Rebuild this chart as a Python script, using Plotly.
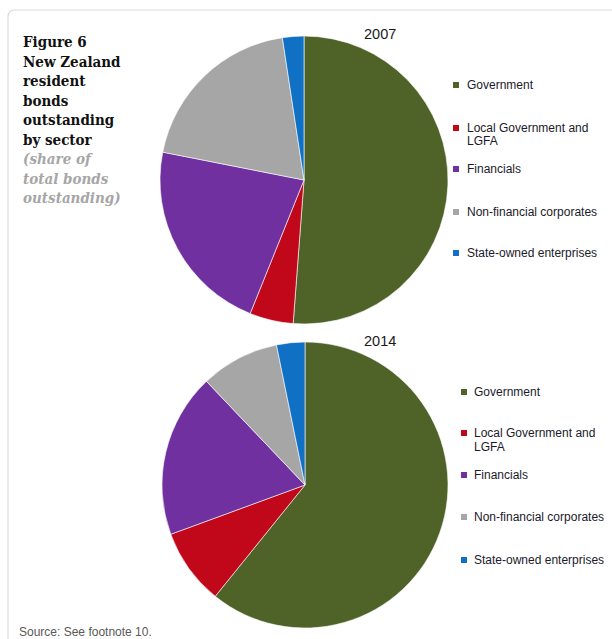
import plotly.graph_objects as go

# ---- data ----
sectors = ["Government", "Local Government and LGFA", "Financials",
           "Non-financial corporates", "State-owned enterprises"]
legend_labels = ["Government", "Local Government and<br>LGFA", "Financials",
                 "Non-financial corporates", "State-owned enterprises"]
share_2007 = [51.2, 4.9, 22.0, 19.5, 2.4]
share_2014 = [60.8, 8.6, 18.5, 8.9, 3.2]
years = ["2007", "2014"]
colors = ["#4F6228", "#C0081A", "#7030A0", "#A6A6A6", "#1070C4"]

W, H = 612, 639
def fx(x): return x / W
def fy(y): return 1 - y / H

fig = go.Figure()
fig.add_trace(go.Pie(
    labels=sectors, values=share_2007, sort=False, direction="clockwise",
    rotation=0, textinfo="none", showlegend=False,
    marker=dict(colors=colors, line=dict(color="white", width=0.6)),
    domain=dict(x=[fx(160), fx(448)], y=[fy(324), fy(36)]),
))
fig.add_trace(go.Pie(
    labels=sectors, values=share_2014, sort=False, direction="clockwise",
    rotation=0, textinfo="none", showlegend=False,
    marker=dict(colors=colors, line=dict(color="white", width=0.6)),
    domain=dict(x=[fx(162), fx(448)], y=[fy(628), fy(342)]),
))

annotations = []
shapes = []

# year titles
for yr, ypix in zip(years, [34, 341]):
    annotations.append(dict(text=yr, x=fx(380), y=fy(ypix), xref="paper", yref="paper",
                            showarrow=False, xanchor="center", yanchor="middle",
                            font=dict(family="Liberation Sans, Arial", size=14.5, color="#1a1a1a")))

# legends
leg_specs = [
    dict(sq_x=456, tx=465, rows=[85, 128, 169, 212, 253]),
    dict(sq_x=464, tx=472, rows=[392, 433, 475, 517, 560]),
]
for spec in leg_specs:
    for lab, col, ry in zip(legend_labels, colors, spec["rows"]):
        shapes.append(dict(type="rect", xref="paper", yref="paper",
                           x0=fx(spec["sq_x"] - 3), x1=fx(spec["sq_x"] + 3),
                           y0=fy(ry + 3), y1=fy(ry - 3),
                           fillcolor=col, line=dict(width=0)))
        for i, line in enumerate(lab.split("<br>")):
            annotations.append(dict(text=line, x=fx(spec["tx"]), y=fy(ry + 13.5 * i),
                                    xref="paper", yref="paper", showarrow=False,
                                    xanchor="left", yanchor="middle",
                                    font=dict(family="Liberation Sans, Arial", size=12,
                                              color="#1a1a2a")))

# title block
title_txt = ("<b>Figure 6<br>New Zealand<br>resident<br>bonds<br>outstanding<br>by sector</b><br>"
             "<b><i><span style='color:#A6A6A6'>(share of<br>total bonds<br>outstanding)</span></i></b>")
annotations.append(dict(text=title_txt, x=fx(21), y=fy(31), xref="paper", yref="paper",
                        showarrow=False, xanchor="left", yanchor="top", align="left",
                        font=dict(family="DejaVu Serif Condensed, DejaVu Serif", size=15,
                                  color="#111111")))

# source
annotations.append(dict(text="Source: See footnote 10.", x=fx(17), y=fy(632),
                        xref="paper", yref="paper", showarrow=False,
                        xanchor="left", yanchor="middle",
                        font=dict(family="Liberation Sans, Arial", size=12, color="#595959")))

# frame border (left + top with rounded corner)
path = (f"M {fx(8)},{fy(639)} L {fx(8)},{fy(17)} "
        f"Q {fx(8)},{fy(10)} {fx(15)},{fy(10)} L {fx(612)},{fy(10)}")
shapes.append(dict(type="path", xref="paper", yref="paper", path=path,
                   line=dict(color="#D9D9D9", width=1.2)))

fig.update_layout(
    width=W, height=H, margin=dict(l=0, r=0, t=0, b=0),
    paper_bgcolor="white", plot_bgcolor="white",
    annotations=annotations, shapes=shapes, showlegend=False,
)
fig.write_html("out.html")
